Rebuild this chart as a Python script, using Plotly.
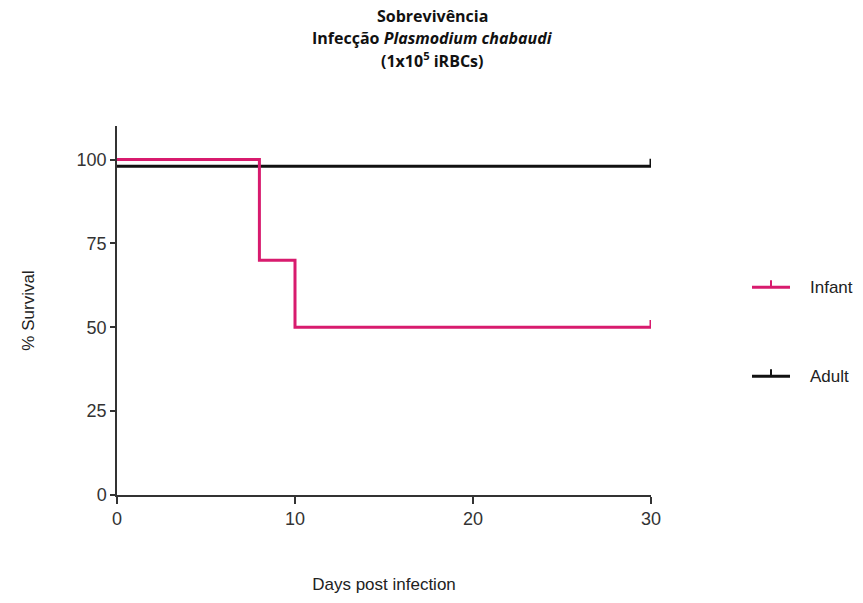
import plotly.graph_objects as go

# Kaplan-Meier survival data (days post infection, % survival)
infant_days = [0, 8, 10, 30]
infant_survival = [100, 70, 50, 50]
adult_days = [0, 30]
adult_survival = [100, 100]

x_ticks = [0, 10, 20, 30]
y_ticks = [0, 25, 50, 75, 100]

PINK = "#D81B6E"
BLACK = "#111111"
FONT = "Arial"

# Overlapping curves are nudged slightly apart so both remain visible
ADULT_SHIFT = -2
CENSOR_LEN = 2.2

# plot area in pixels
LEFT, RIGHT, TOP, BOTTOM = 117, 651, 126, 499

def px_x(p):
    return (p - LEFT) / (RIGHT - LEFT)

def px_y(p):
    return (BOTTOM - p) / (BOTTOM - TOP)

fig = go.Figure()

fig.add_trace(go.Scatter(
    x=adult_days, y=[v + ADULT_SHIFT for v in adult_survival],
    mode="lines", line=dict(color=BLACK, width=3, shape="hv"),
    showlegend=False, cliponaxis=False))
fig.add_trace(go.Scatter(
    x=infant_days, y=infant_survival,
    mode="lines", line=dict(color=PINK, width=3, shape="hv"),
    showlegend=False, cliponaxis=False))

# censor ticks at the end of follow-up
for days, surv, col, shift in [(infant_days, infant_survival, PINK, 0),
                               (adult_days, adult_survival, BLACK, ADULT_SHIFT)]:
    fig.add_trace(go.Scatter(
        x=[days[-1], days[-1]], y=[surv[-1] + shift, surv[-1] + shift + CENSOR_LEN],
        mode="lines", line=dict(color=col, width=3),
        showlegend=False, cliponaxis=False))

# legend drawn by hand: short line with an upward censor tick
legend_items = [("Infant", PINK, 289), ("Adult", BLACK, 379)]
shapes = []
annotations = []
for name, col, py in legend_items:
    shapes.append(dict(type="line", xref="paper", yref="paper",
                       x0=px_x(752), x1=px_x(790), y0=px_y(py), y1=px_y(py),
                       line=dict(color=col, width=3)))
    shapes.append(dict(type="line", xref="paper", yref="paper",
                       x0=px_x(771), x1=px_x(771), y0=px_y(py), y1=px_y(py - 7),
                       line=dict(color=col, width=2)))
    annotations.append(dict(text=name, xref="paper", yref="paper",
                            x=px_x(808), y=px_y(py), xanchor="left", yanchor="middle",
                            showarrow=False, font=dict(family=FONT, size=17, color="#222")))

# title lines
title_lines = ["<b>Sobrevivência</b>",
               "<b>Infecção <i>Plasmodium chabaudi</i></b>",
               "<b>(1x10<sup>5</sup> iRBCs)</b>"]
for txt, py in zip(title_lines, [15, 37, 59]):
    annotations.append(dict(text=txt, xref="paper", yref="paper",
                            x=px_x(432), y=px_y(py),
                            xanchor="center", yanchor="middle", showarrow=False,
                            font=dict(family="Open Sans", size=16, color="#111")))

fig.update_layout(
    width=863, height=603,
    margin=dict(l=LEFT, r=863 - RIGHT, t=TOP, b=603 - BOTTOM),
    paper_bgcolor="white", plot_bgcolor="white",
    showlegend=False,
    shapes=shapes, annotations=annotations,
    font=dict(family=FONT, size=17, color="#333"),
    xaxis=dict(range=[0, 30], tickvals=x_ticks, ticks="outside", ticklen=7,
               tickwidth=1.5, tickcolor="#333", showline=True, linecolor="#333",
               linewidth=1.5, showgrid=False, zeroline=False,
               tickfont=dict(family=FONT, size=18, color="#333"),
               title=dict(text="Days post infection", standoff=50,
                          font=dict(family=FONT, size=17, color="#222"))),
    yaxis=dict(range=[0, 110], tickvals=y_ticks, ticks="outside", ticklen=5,
               tickwidth=1.5, tickcolor="#333", showline=True, linecolor="#333",
               linewidth=1.5, showgrid=False, zeroline=False,
               tickfont=dict(family=FONT, size=18, color="#333"),
               title=dict(text="% Survival", standoff=38,
                          font=dict(family=FONT, size=17, color="#222"))),
)

fig.write_html("out.html")
